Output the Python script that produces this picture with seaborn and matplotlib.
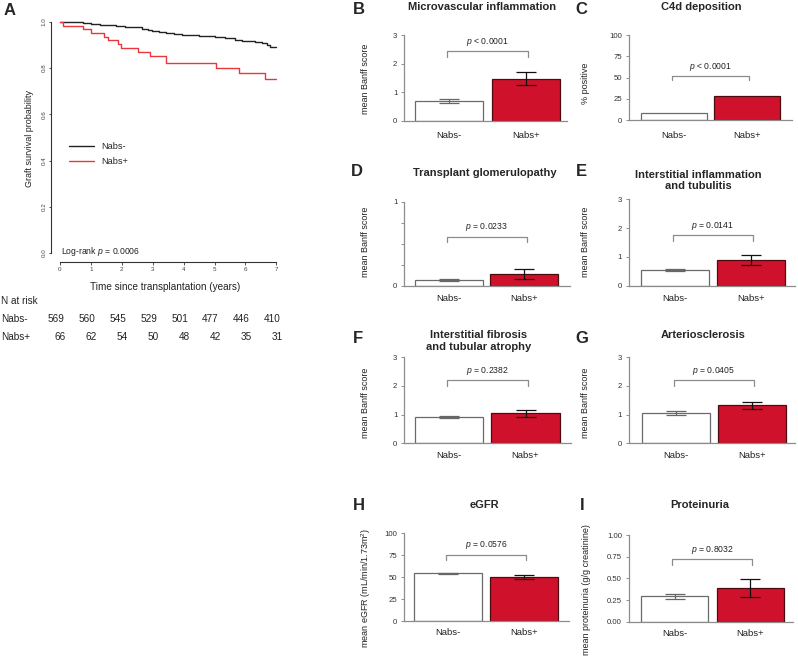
import matplotlib
matplotlib.use("Agg")
import matplotlib.pyplot as plt
import matplotlib.transforms as mtransforms
import seaborn as sns

sns.set_style("white")
plt.rcParams["font.family"] = ["Liberation Sans", "DejaVu Sans"]
plt.rcParams["mathtext.fontset"] = "custom"
plt.rcParams["mathtext.rm"] = "Liberation Sans"
plt.rcParams["mathtext.it"] = "Liberation Sans:italic"
plt.rcParams["mathtext.bf"] = "Liberation Sans:bold"

# ---------------- data ----------------
groups = ["Nabs-", "Nabs+"]

# Kaplan-Meier (panel A)
km_time_neg = [0, 0.35, 0.75, 1.0, 1.28, 1.55, 1.82, 2.1, 2.35, 2.67, 2.85, 2.99, 3.2,
               3.42, 3.7, 3.95, 4.49, 5.02, 5.34, 5.66, 5.9, 6.09, 6.3, 6.52, 6.7, 6.79, 7.0]
km_surv_neg = [1.0, 0.998, 0.994, 0.991, 0.987, 0.984, 0.981, 0.979, 0.976, 0.970, 0.966,
               0.961, 0.955, 0.950, 0.946, 0.943, 0.939, 0.936, 0.930, 0.921, 0.918, 0.916,
               0.912, 0.907, 0.900, 0.893, 0.890]
km_time_pos = [0, 0.09, 0.73, 1.02, 1.44, 1.55, 1.87, 1.98, 2.51, 2.9, 3.42, 5.04, 5.79, 6.63, 7.0]
km_surv_pos = [1.0, 0.983, 0.969, 0.951, 0.936, 0.921, 0.904, 0.887, 0.871, 0.854, 0.823,
               0.800, 0.779, 0.754, 0.754]
km_yticks = [0.0, 0.2, 0.4, 0.6, 0.8, 1.0]
km_xticks = [0, 1, 2, 3, 4, 5, 6, 7]
risk_times = [0, 1, 2, 3, 4, 5, 6, 7]
risk_neg = [569, 560, 545, 529, 501, 477, 446, 410]
risk_pos = [66, 62, 54, 50, 48, 42, 35, 31]
logrank_p = "0.0006"

# Bar panels (B-I)
panel_letters = ["B", "C", "D", "E", "F", "G", "H", "I"]
panel_titles = ["Microvascular inflammation", "C4d deposition", "Transplant glomerulopathy",
                "Interstitial inflammation\nand tubulitis",
                "Interstitial fibrosis\nand tubular atrophy", "Arteriosclerosis",
                "eGFR", "Proteinuria"]
panel_ylabels = ["mean Banff score", "% positive", "mean Banff score", "mean Banff score",
                 "mean Banff score", "mean Banff score", "mean eGFR (mL/min/1.73m$^2$)",
                 "mean proteinuria (g/g creatinine)"]
mean_neg = [0.70, 8.6, 0.07, 0.545, 0.907, 1.057, 54.3, 0.292]
mean_pos = [1.47, 28.0, 0.14, 0.89, 1.04, 1.325, 49.8, 0.389]
se_neg = [0.07, None, 0.01, 0.035, 0.04, 0.07, 1.0, 0.025]
se_pos = [0.22, None, 0.06, 0.18, 0.13, 0.13, 2.3, 0.10]
p_labels = ["< 0.0001", "< 0.0001", "= 0.0233", "= 0.0141", "= 0.2382", "= 0.0405",
            "= 0.0576", "= 0.8032"]
y_max = [3, 100, 1, 3, 3, 3, 100, 1]
y_ticks = [[0, 1, 2, 3], [0, 25, 50, 75, 100], [0, 0.25, 0.5, 0.75, 1],
           [0, 1, 2, 3], [0, 1, 2, 3], [0, 1, 2, 3], [0, 25, 50, 75, 100],
           [0, 0.25, 0.5, 0.75, 1.0]]
y_ticklabels = [["0", "1", "2", "3"], ["0", "25", "50", "75", "100"],
                ["0", "", "", "", "1"], ["0", "1", "2", "3"], ["0", "1", "2", "3"],
                ["0", "1", "2", "3"], ["0", "25", "50", "75", "100"],
                ["0.00", "0.25", "0.50", "0.75", "1.00"]]

# ---------------- layout (pixels) ----------------
W, H = 798, 659
# left, right, top, bottom, center of bar 0, center of bar 1
panel_box = [(404.5, 567, 35, 120.7, 449, 526), (629, 792, 35, 120.3, 673.7, 746.5),
             (404.5, 570, 201.7, 286, 448.8, 524.5), (629, 795, 199.3, 285.7, 674.8, 750.8),
             (404.5, 570.7, 357.3, 443.3, 449.2, 525.5), (629, 795, 357.3, 443.3, 675.8, 751.8),
             (404.5, 569, 533.3, 621, 448.3, 524.2), (629, 793, 535, 621.7, 674.5, 750)]
bar_px = [68, 66, 68, 68, 68, 68, 68, 67]
title_xy = [(482, 7), (701.7, 7), (485, 173), (698, 180.5), (479, 340.7), (703, 335),
            (484, 505), (700, 505)]
letter_xy = [(359, 9.5), (581.7, 9.5), (357, 172), (581.7, 172), (358, 338.3),
             (581.7, 338.3), (359, 505), (581.7, 505)]
ylabel_xy = [(365, 79), (585, 83), (365, 241.7), (585, 241.7), (365, 403), (585, 402.5),
             (366, 588), (586.7, 590)]
bracket_y = [(2.44, 2.24, 2.76), (52.5, 47.4, 63), (0.585, 0.518, 0.70), (1.75, 1.55, 2.07),
             (2.21, 2.01, 2.53), (2.21, 2.01, 2.53), (75.7, 69.2, 87.1), (0.723, 0.658, 0.83)]
xlab_pad = [7.6, 7.6, 5.7, 5.7, 5.7, 5.7, 5.2, 5.2]

RED = "#d0112b"
RED_EDGE = "#4a0c10"
GRAY_EDGE = "#6a6a6a"
AX_GRAY = "#8c8c8c"
TXT = "#222222"

fig = plt.figure(figsize=(W / 100, H / 100), dpi=100)


def add_ax(left, right, top, bottom):
    return fig.add_axes([left / W, 1 - bottom / H, (right - left) / W, (bottom - top) / H])


def ftxt(x, y, s, **kw):
    return fig.text(x / W, 1 - y / H, s, **kw)


# ---------------- Panel A: Kaplan-Meier ----------------
ax = add_ax(51.3, 285, 12.5, 262.3)
sns.lineplot(x=km_time_neg, y=km_surv_neg, drawstyle="steps-post", estimator=None,
             sort=False, color="#222222", lw=1.0, label="Nabs-", ax=ax)
sns.lineplot(x=km_time_pos, y=km_surv_pos, drawstyle="steps-post", estimator=None,
             sort=False, color="#e8383d", lw=1.0, label="Nabs+", ax=ax)
ax.set_xlim(-0.28, 7.28)
ax.set_ylim(-0.04, 1.04)
for s in ["top", "right"]:
    ax.spines[s].set_visible(False)
for s in ["left", "bottom"]:
    ax.spines[s].set_color("#333333")
    ax.spines[s].set_linewidth(0.8)
ax.spines["left"].set_bounds(0, 1)
ax.spines["bottom"].set_bounds(0, 7)
ax.set_yticks(km_yticks)
ax.set_yticklabels([f"{v:.1f}" for v in km_yticks])
ax.set_xticks(km_xticks)
ax.set_xticklabels([str(v) for v in km_xticks])
ax.tick_params(axis="both", length=1.8, width=0.6, color="#333333", labelsize=4.5,
               labelcolor="#444444", pad=1.5, left=True, bottom=True)
for lab in ax.get_yticklabels():
    lab.set_rotation(90)
    lab.set_va("center")
ax.set_xlabel("")
ax.set_ylabel("")
ax.legend(loc="center left", bbox_to_anchor=(69.3 / W, 1 - 154 / H),
          bbox_transform=fig.transFigure, frameon=False, fontsize=6.6, handlelength=2.7,
          handletextpad=0.75, labelspacing=0.65, borderpad=0, borderaxespad=0)
ftxt(30, 138.5, "Graft survival probability", rotation=90, ha="center", va="center",
     fontsize=6.5, color=TXT)
ftxt(165, 286.7, "Time since transplantation (years)", ha="center", va="center",
     fontsize=7.2, color=TXT)
ftxt(60.7, 251.5, "Log-rank $p$ = " + logrank_p, ha="left", va="center", fontsize=6.2,
     color=TXT)
ftxt(9.5, 10.5, "A", ha="center", va="center", fontsize=12, fontweight="bold")

# N at risk table
ftxt(1, 300.7, "N at risk", ha="left", va="center", fontsize=7.2, color=TXT)
ftxt(1, 319, "Nabs-", ha="left", va="center", fontsize=7.2, color=TXT)
ftxt(1, 336.7, "Nabs+", ha="left", va="center", fontsize=7.2, color=TXT)
blend = mtransforms.blended_transform_factory(ax.transData, fig.transFigure)
tr_neg = mtransforms.offset_copy(blend, fig=fig, x=-2.9, units="points")
tr_pos = mtransforms.offset_copy(blend, fig=fig, x=0.4, units="points")
for t, n in zip(risk_times, risk_neg):
    ax.text(t, 1 - 319 / H, str(n), transform=tr_neg, ha="center", va="center",
            fontsize=7.2, color=TXT, clip_on=False)
for t, n in zip(risk_times, risk_pos):
    ax.text(t, 1 - 336.7 / H, str(n), transform=tr_pos, ha="center", va="center",
            fontsize=7.2, color=TXT, clip_on=False)

# ---------------- Panels B-I: bar charts ----------------
for i in range(len(panel_letters)):
    L, R, T, B, c0, c1 = panel_box[i]
    unit = c1 - c0
    bax = add_ax(L, R, T, B)
    sns.barplot(x=groups, y=[mean_neg[i], mean_pos[i]], hue=groups,
                palette=["white", RED], saturation=1, legend=False,
                width=bar_px[i] / unit, linewidth=0.9, ax=bax)
    for patch, ec in zip(bax.patches, [GRAY_EDGE, RED_EDGE]):
        patch.set_edgecolor(ec)
        patch.set_linewidth(0.9)
    if se_neg[i] is not None:
        bax.errorbar([0], [mean_neg[i]], yerr=[se_neg[i]], fmt="none", ecolor="#666666",
                     elinewidth=0.9, capsize=7, capthick=0.9, zorder=4)
        bax.errorbar([1], [mean_pos[i]], yerr=[se_pos[i]], fmt="none", ecolor="#111111",
                     elinewidth=0.9, capsize=7, capthick=0.9, zorder=4)
    bax.set_xlim((L - c0) / unit, 1 + (R - c1) / unit)
    bax.set_ylim(0, y_max[i])
    bax.set_yticks(y_ticks[i])
    bax.set_yticklabels(y_ticklabels[i])
    for s in ["top", "right"]:
        bax.spines[s].set_visible(False)
    for s in ["left", "bottom"]:
        bax.spines[s].set_color(AX_GRAY)
        bax.spines[s].set_linewidth(0.9)
    bax.tick_params(axis="y", left=True, length=2.4, width=0.7, color=AX_GRAY,
                    labelsize=5.6, labelcolor="#333333", pad=2.7)
    bax.tick_params(axis="x", bottom=False, length=0, labelsize=6.8, labelcolor=TXT,
                    pad=xlab_pad[i])
    bax.set_xlabel("")
    bax.set_ylabel("")
    # significance bracket
    top, leg, ptxt = bracket_y[i]
    bax.plot([-0.03, -0.03, 1.03, 1.03], [leg, top, top, leg], color=AX_GRAY, lw=0.9,
             clip_on=False)
    bax.text(0.5, ptxt, "$p$ " + p_labels[i], ha="center", va="center", fontsize=6.2,
             color=TXT)
    # titles, letters, y labels
    tx, ty = title_xy[i]
    ftxt(tx, ty, panel_titles[i], ha="center", va="center", fontsize=8, fontweight="bold",
         linespacing=1.2)
    lx, ly = letter_xy[i]
    ftxt(lx, ly, panel_letters[i], ha="center", va="center", fontsize=12, fontweight="bold")
    yx, yy = ylabel_xy[i]
    ftxt(yx, yy, panel_ylabels[i], rotation=90, ha="center", va="center", fontsize=6.5,
         color=TXT)

fig.savefig("out.png", dpi=100)
